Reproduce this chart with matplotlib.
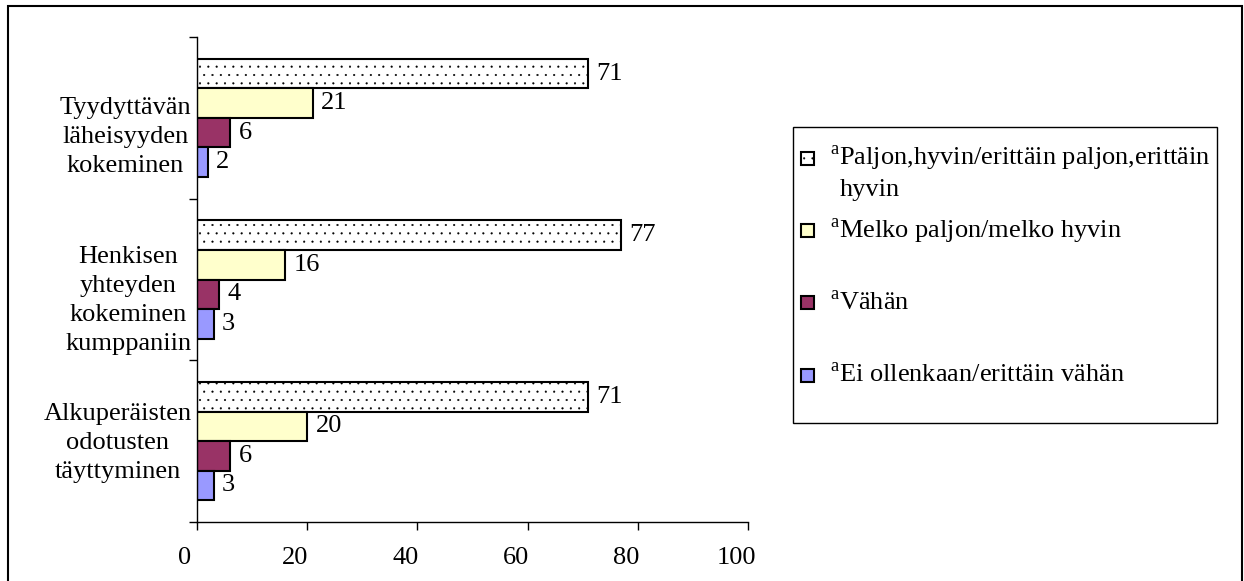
import matplotlib
matplotlib.use('Agg')
import matplotlib.pyplot as plt
import matplotlib.transforms as mtransforms
from matplotlib.patches import Rectangle
import numpy as np

plt.rcParams['font.family'] = ['Liberation Serif', 'DejaVu Serif']
plt.rcParams['mathtext.fontset'] = 'custom'
plt.rcParams['mathtext.rm'] = 'Liberation Serif'
plt.rcParams['hatch.linewidth'] = 0.3
plt.rcParams['hatch.color'] = 'black'

# data
categories = ['Tyydyttävän\nläheisyyden\nkokeminen',
              'Henkisen\nyhteyden\nkokeminen\nkumppaniin',
              'Alkuperäisten\nodotusten\ntäyttyminen']
series = ['Paljon,hyvin/erittäin paljon,erittäin\nhyvin',
          'Melko paljon/melko hyvin',
          'Vähän',
          'Ei ollenkaan/erittäin vähän']
values = [[71, 77, 71],
          [21, 16, 20],
          [6, 4, 6],
          [2, 3, 3]]
colors = ['white', '#FFFFCC', '#993366', '#9999FF']
hatches = ['..', None, None, None]
xticks = [0, 20, 40, 60, 80, 100]

W, H = 1244, 581
fig = plt.figure(figsize=(W / 100, H / 100), dpi=100)
ax = fig.add_axes([197 / W, 1 - 522 / H, (748 - 197) / W, (522 - 37) / H])

# categories top to bottom
ypos = np.arange(len(categories))[::-1]
bh = 0.1825
for i, (vals, c, h) in enumerate(zip(values, colors, hatches)):
    y = ypos + (1.5 - i) * bh
    bars = ax.barh(y, vals, height=bh, color=c, edgecolor='black',
                   linewidth=1.5, hatch=h)
    for b, v in zip(bars, vals):
        ax.annotate(str(v), (b.get_width(), b.get_y() + bh / 2),
                    xytext=(6, 0), textcoords='offset points',
                    va='center', ha='left', fontsize=19)

ax.set_xlim(0, 100)
ax.set_ylim(-0.5, len(categories) - 0.5)
ax.set_xticks(xticks)
ax.set_xticklabels([str(t) for t in xticks], fontsize=19)
ax.set_yticks(ypos)
ax.set_yticklabels(categories, fontsize=19, multialignment='center',
                   linespacing=1.42)
ax.set_yticks(np.arange(len(categories) + 1) - 0.5, minor=True)
ax.tick_params(axis='y', which='major', length=0, pad=4)
ax.tick_params(axis='y', which='minor', length=6, width=1, direction='out')
ax.tick_params(axis='x', length=6, width=1, direction='out', pad=12)
for lab in ax.get_xticklabels():
    lab.set_transform(lab.get_transform() +
                      mtransforms.ScaledTranslation(-0.12, 0, fig.dpi_scale_trans))
# the wrapped labels sit a bit low in the original
for lab, dy in zip(ax.get_yticklabels(), [-0.13, -0.15, 0.04]):
    lab.set_transform(lab.get_transform() +
                      mtransforms.ScaledTranslation(0, dy, fig.dpi_scale_trans))
for s in ['top', 'right']:
    ax.spines[s].set_visible(False)
for s in ['left', 'bottom']:
    ax.spines[s].set_linewidth(1)

# legend box drawn by hand
def fx(px):
    return px / W

def fy(py):
    return 1 - py / H

fig.patches.append(Rectangle((fx(793), fy(423)), fx(1217) - fx(793), fy(127) - fy(423),
                             transform=fig.transFigure, facecolor='white',
                             edgecolor='black', linewidth=1))
entry_y = [158, 231, 303, 375]
for lab, c, h, yy in zip(series, colors, hatches, entry_y):
    fig.patches.append(Rectangle((fx(801), fy(yy + 6.5)), fx(13), 13 / H,
                                 transform=fig.transFigure, facecolor=c,
                                 edgecolor='black', linewidth=1.5, hatch=h))
    lines = lab.split('\n')
    fig.text(fx(830), fy(yy), r'$^{\mathrm{a}}$' + lines[0], fontsize=19,
             va='center', ha='left')
    for k, extra in enumerate(lines[1:]):
        fig.text(fx(840), fy(yy + 32 * (k + 1)), extra, fontsize=19,
                 va='center', ha='left')

# outer frame
fig.patches.append(Rectangle((fx(8), fy(600)), fx(1242) - fx(8), fy(6) - fy(600),
                             transform=fig.transFigure, facecolor='none',
                             edgecolor='black', linewidth=1.5, clip_on=False))

fig.savefig('out.png', dpi=100)
